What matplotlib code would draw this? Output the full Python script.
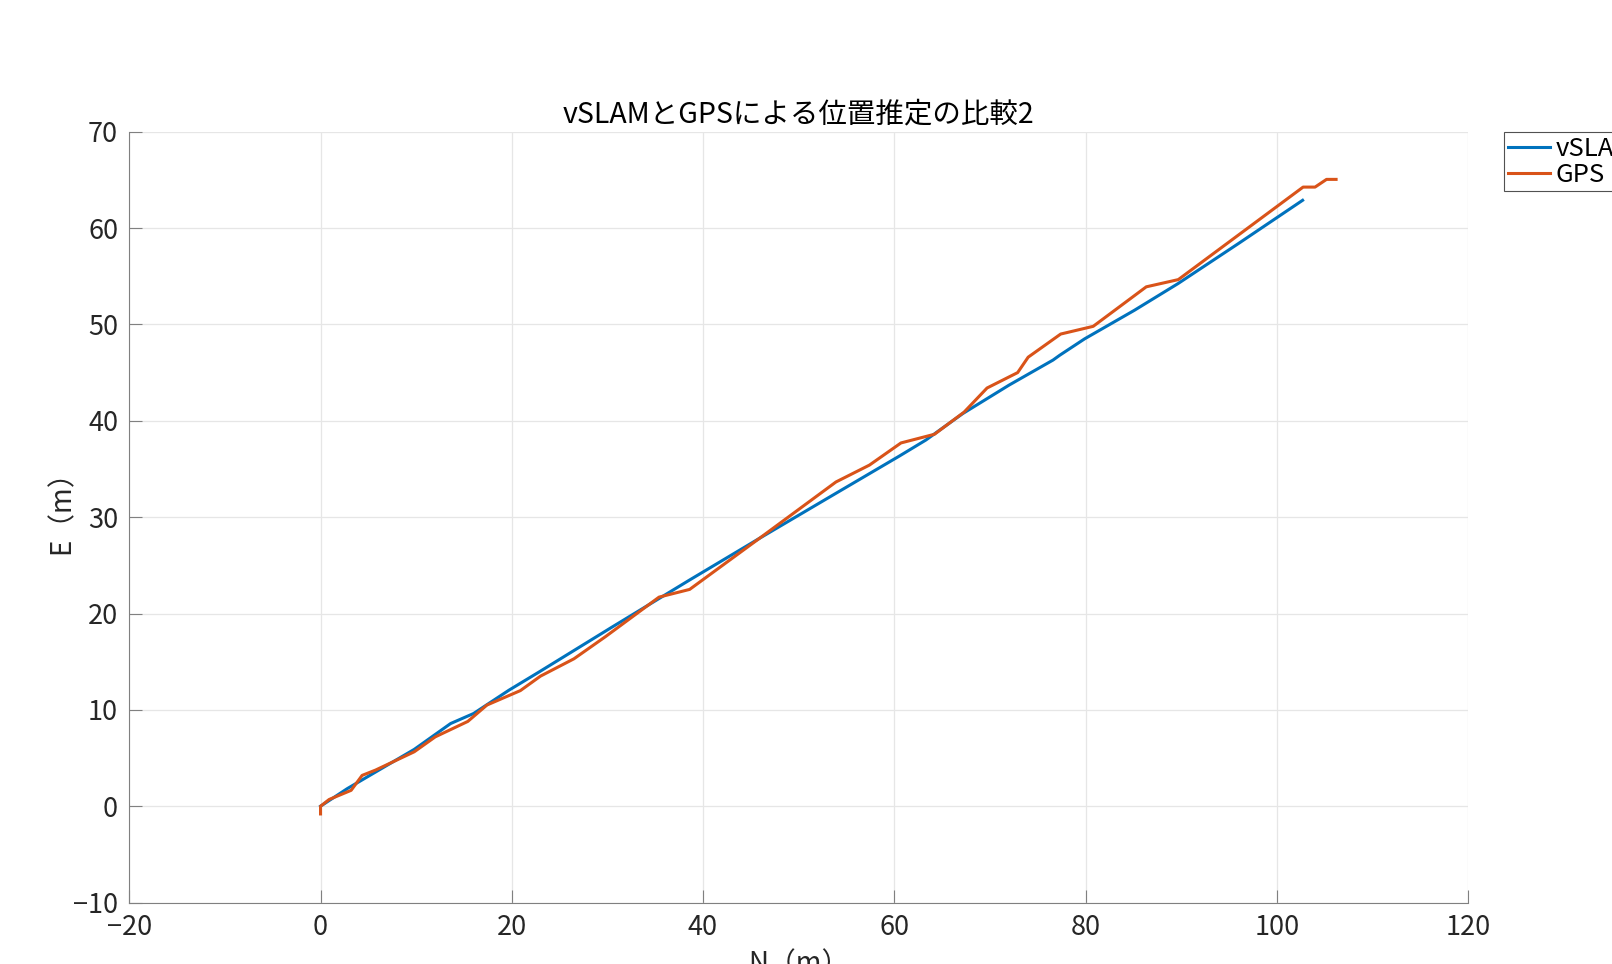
import numpy as np
import matplotlib
matplotlib.use('Agg')
import matplotlib.pyplot as plt

plt.rcParams['font.family'] = ['Noto Sans CJK JP', 'DejaVu Sans']

# vSLAM estimated trajectory (N, E) in metres
vslam_n = [0.0, 2.8, 9.8, 13.6, 16.0, 19.7, 22.85, 30.5, 38.55, 45.9, 53.0, 60.55,
           63.3, 67.15, 72.0, 76.6, 77.3, 79.9, 85.1, 89.66, 96.0, 102.7]
vslam_e = [0.0, 1.83, 5.9, 8.58, 9.62, 12.04, 13.93, 18.6, 23.45, 27.8, 31.95, 36.35,
           38.0, 40.74, 43.7, 46.3, 46.8, 48.5, 51.46, 54.23, 58.4, 62.88]

# GPS trajectory (N, E) in metres
gps_n = [0.0, 0.0, 0.9, 3.2, 4.35, 5.75, 9.8, 12.0, 15.4, 17.4, 20.9, 23.0, 26.5,
         29.8, 35.4, 38.6, 45.9, 53.9, 57.4, 60.7, 64.2, 67.3, 69.7, 72.9, 74.0,
         77.4, 80.8, 86.35, 89.7, 102.75, 104.0, 105.2, 106.2]
gps_e = [-0.8, 0.0, 0.7, 1.65, 3.2, 3.75, 5.65, 7.2, 8.8, 10.5, 12.0, 13.5, 15.3,
         17.6, 21.7, 22.5, 27.8, 33.65, 35.4, 37.7, 38.6, 40.9, 43.4, 45.0, 46.6,
         49.0, 49.8, 53.9, 54.65, 64.25, 64.25, 65.05, 65.05]

fig = plt.figure(figsize=(16.12, 9.64), dpi=100)
ax = fig.add_axes([0.0802, 0.0637, 0.8305, 0.7997])

ax.plot(vslam_n, vslam_e, color='#0072BD', lw=2.2, label='vSLAM')
ax.plot(gps_n, gps_e, color='#D95319', lw=2.2, label='GPS')

ax.set_xlim(-20, 120)
ax.set_ylim(-10, 70)
ax.set_xticks(np.arange(-20, 121, 20))
ax.set_yticks(np.arange(-10, 71, 10))
ax.grid(True, color='#e6e6e6', lw=0.9)
ax.set_axisbelow(True)

for s in ['top', 'right']:
    ax.spines[s].set_visible(False)
for s in ['left', 'bottom']:
    ax.spines[s].set_color('#808080')
ax.tick_params(direction='in', length=9.5, width=0.8, color='#808080',
               labelsize=19.5, labelcolor='#262626', pad=8)

ax.set_title('vSLAMとGPSによる位置推定の比較2', fontsize=20.5, color='#000000', pad=7)
ax.set_xlabel('N（m）', fontsize=20, color='#262626', labelpad=6)
ax.set_ylabel('E（m）', fontsize=20, color='#262626')
ax.yaxis.set_label_coords(-0.039, 0.515)

leg = ax.legend(loc='upper left', bbox_to_anchor=(1.027, 1.0), fontsize=18.5,
                frameon=True, fancybox=False, edgecolor='#262626',
                borderpad=0.15, labelspacing=0.0, handlelength=1.65,
                handletextpad=0.2, borderaxespad=0)
leg.get_frame().set_linewidth(0.8)

fig.savefig('out.png', dpi=100)
